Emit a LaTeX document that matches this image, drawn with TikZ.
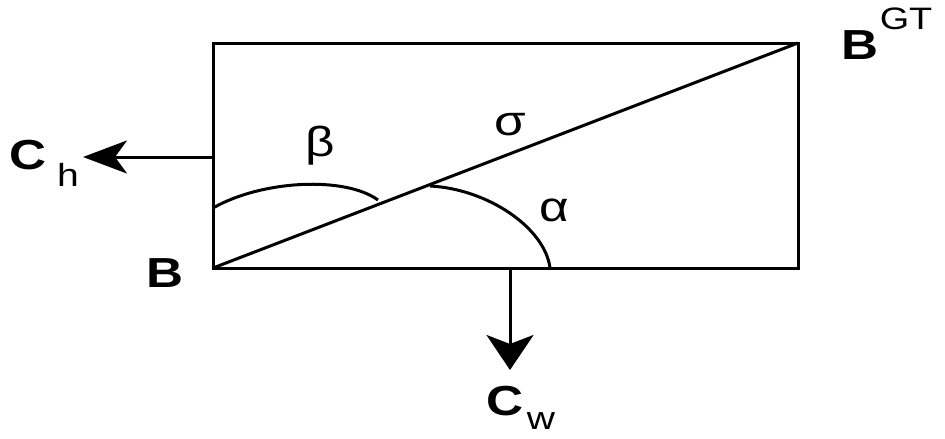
\documentclass[tikz,border=0pt]{standalone}
\usepackage{fontspec}
\setmainfont{Liberation Sans}[FakeStretch=1.22]
\usetikzlibrary{arrows.meta, positioning}

\begin{document}
\begin{tikzpicture}[x=1pt,y=-1pt]
    \tikzstyle{line} = [line width=3pt]
    \tikzstyle{harrow} = [line width=3pt, -{Stealth[length=44pt, width=33pt, inset=12pt]}]
    \tikzstyle{varrow} = [line width=3pt, -{Stealth[length=35pt, width=47pt, inset=9pt]}]
    \tikzstyle{boldlabel} = [inner sep=0pt, font=\fontsize{42}{42}\selectfont\bfseries]
    \tikzstyle{greeklabel} = [inner sep=0pt, font=\fontsize{42}{42}\selectfont]
    \tikzstyle{sublabel} = [inner sep=0pt, font=\fontsize{32}{32}\selectfont]
    \useasboundingbox (0,0) rectangle (945,439);
    \coordinate (B) at (213,268);
    \coordinate (BGT) at (798,43);
    \coordinate (hstart) at (213,157);
    \coordinate (htip) at (83,157);
    \coordinate (wstart) at (510,268);
    \coordinate (wtip) at (510,370);
    \draw [line] (B) rectangle (BGT);
    \draw [line] (B) -- (BGT);
    \draw [line] (213,208) .. controls (262,180) and (345,176) .. (378,200);
    \draw [line] (430,186) .. controls (488,189) and (545,228) .. (550,268);
    \draw [harrow] (hstart) -- (htip);
    \draw [varrow] (wstart) -- (wtip);
    \node (labB) [boldlabel] at (165,273) {B};
    \node (labBGT) [boldlabel] at (860,45) {B};
    \node (labGT) [sublabel, font=\fontsize{31}{31}\selectfont] at (906,19) {GT};
    \node (labCh) [boldlabel] at (28,155) {C};
    \node (labh) [sublabel] at (68,175) {h};
    \node (labCw) [boldlabel] at (505,401) {C};
    \node (labw) [sublabel] at (541,421) {w};
    \node (beta) [greeklabel] at (320,146) {β};
    \node (sigma) [greeklabel] at (510,125) {σ};
    \node (alpha) [greeklabel] at (554,210) {α};
\end{tikzpicture}
\end{document}
